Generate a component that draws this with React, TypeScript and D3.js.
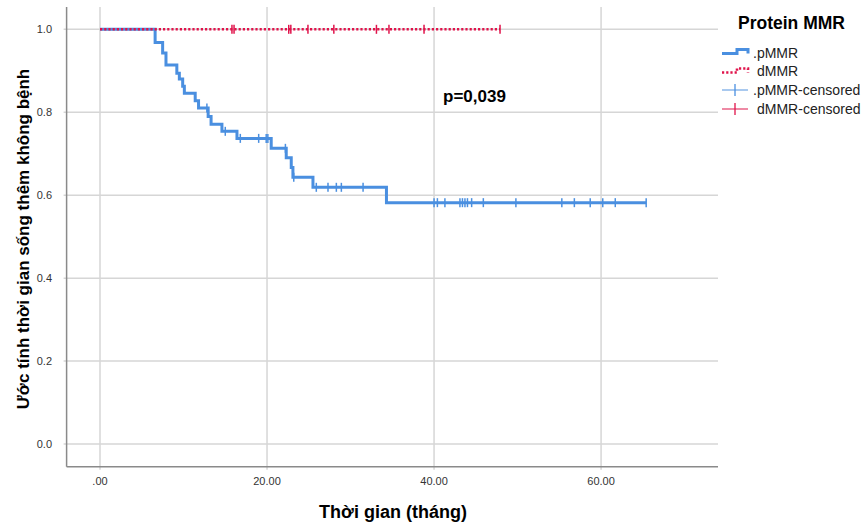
import React from "react";
import * as d3 from "d3";

// ---- Data ----
const pmmrTimes = [0, 6.6, 7.5, 7.9, 9.2, 9.5, 9.9, 10.1, 11.4, 11.8, 12.95, 13.3, 14.6, 16.4, 20.5, 22.3, 22.9, 23.1, 25.5, 34.3, 65.4];
const pmmrSurv = [1.0, 0.968, 0.943, 0.914, 0.894, 0.88, 0.863, 0.846, 0.828, 0.81, 0.79, 0.771, 0.754, 0.737, 0.713, 0.69, 0.667, 0.643, 0.619, 0.582, 0.582];
const pmmrCensored = [12.8, 15.0, 16.8, 19.0, 19.9, 20.1, 22.2, 23.2, 25.9, 27.3, 28.3, 28.9, 31.5, 40.0, 40.4, 41.3, 43.1, 43.4, 43.7, 44.0, 44.5, 45.9, 49.8, 55.3, 56.8, 58.7, 60.2, 61.7, 65.4];

const dmmrTimes = [0, 47.9];
const dmmrSurv = [1.0, 1.0];
const dmmrCensored = [15.8, 16.05, 22.6, 22.85, 24.9, 28.0, 33.1, 34.6, 38.8, 47.9];

const xTicks = [0, 20, 40, 60];
const xTickLabels = [".00", "20.00", "40.00", "60.00"];
const yTicks = [0, 0.2, 0.4, 0.6, 0.8, 1.0];
const yTickLabels = ["0.0", "0.2", "0.4", "0.6", "0.8", "1.0"];

const seriesNames = [".pMMR", "dMMR", ".pMMR-censored", "dMMR-censored"];
const legendTitle = "Protein MMR";
const pLabel = "p=0,039";
const xTitle = "Thời gian (tháng)";
const yTitle = "Ước tính thời gian sống thêm không bệnh";

const BLUE = "#4a8fe0";
const BLUE_LIGHT = "#a9c9ef";
const RED = "#e0134b";
const RED_LIGHT = "#ee8aa5";
const GRID = "#d6d6d6";
const AXIS = "#8a8a8a";
const FONT = "Arial, 'Liberation Sans', sans-serif";

function survAt(times: number[], surv: number[], t: number) {
  let s = surv[0];
  for (let i = 0; i < times.length; i++) {
    if (times[i] <= t) s = surv[i];
  }
  return s;
}

export default function App() {
  const W = 867, H = 526;
  const left = 66.6, right = 718, top = 7, bottom = 466.7;
  const x = d3.scaleLinear().domain([-4, 74]).range([left, right]);
  const y = d3.scaleLinear().domain([-0.0547, 1.0538]).range([bottom, top]);

  const line = d3
    .line<[number, number]>()
    .x((d) => x(d[0]))
    .y((d) => y(d[1]))
    .curve(d3.curveStepAfter);

  const pPts: [number, number][] = pmmrTimes.map((t, i) => [t, pmmrSurv[i]]);
  const dPts: [number, number][] = dmmrTimes.map((t, i) => [t, dmmrSurv[i]]);

  const tickH = 4.5;

  return (
    <svg width={W} height={H} style={{ position: "absolute", left: 0, top: 0, background: "#fff" }} fontFamily={FONT}>
      <rect x={0} y={0} width={W} height={H} fill="#fff" />
      {/* grid */}
      {yTicks.map((v) => (
        <line key={"gy" + v} x1={left - 3} x2={right} y1={y(v)} y2={y(v)} stroke={GRID} strokeWidth={1.5} />
      ))}
      {xTicks.map((v) => (
        <line key={"gx" + v} x1={x(v)} x2={x(v)} y1={top} y2={bottom + 3} stroke={GRID} strokeWidth={1.5} />
      ))}
      {/* axes */}
      <line x1={left} x2={left} y1={top} y2={bottom} stroke={AXIS} strokeWidth={1.5} />
      <line x1={left} x2={right} y1={bottom} y2={bottom} stroke={AXIS} strokeWidth={1.5} />

      {/* y tick labels */}
      {yTicks.map((v, i) => (
        <text key={"yl" + v} x={52} y={y(v)} dy="0.36em" textAnchor="end" fontSize={11} fill="#333">
          {yTickLabels[i]}
        </text>
      ))}
      {/* x tick labels */}
      {xTicks.map((v, i) => (
        <text key={"xl" + v} x={x(v)} y={485} textAnchor="middle" fontSize={11} fill="#333">
          {xTickLabels[i]}
        </text>
      ))}

      {/* pMMR curve */}
      <path d={line(pPts) || ""} fill="none" stroke={BLUE} strokeWidth={3} />
      {pmmrCensored.map((t, i) => {
        const s = survAt(pmmrTimes, pmmrSurv, t);
        return (
          <line key={"pc" + i} x1={x(t)} x2={x(t)} y1={y(s) - tickH} y2={y(s) + tickH} stroke={BLUE} strokeWidth={1.5} />
        );
      })}

      {/* dMMR curve */}
      <path d={line(dPts) || ""} fill="none" stroke={RED} strokeWidth={2.6} strokeDasharray="2.2,2" />
      {dmmrCensored.map((t, i) => {
        const s = survAt(dmmrTimes, dmmrSurv, t);
        return (
          <line key={"dc" + i} x1={x(t)} x2={x(t)} y1={y(s) - tickH} y2={y(s) + tickH} stroke={RED} strokeWidth={1.5} />
        );
      })}

      {/* p value */}
      <text x={443} y={102} fontSize={17} fontWeight="bold" fill="#000">
        {pLabel}
      </text>

      {/* axis titles */}
      <text x={393} y={518} textAnchor="middle" fontSize={18} fontWeight="bold" fill="#000">
        {xTitle}
      </text>
      <text
        transform={`translate(29,239) rotate(-90)`}
        textAnchor="middle"
        fontSize={17}
        fontWeight="bold"
        fill="#000"
      >
        {yTitle}
      </text>

      {/* legend */}
      <text x={738} y={29} fontSize={17.5} fontWeight="bold" fill="#000">
        {legendTitle}
      </text>
      <path d="M722,53.5 H737 V49.5 H748 V53.5" fill="none" stroke={BLUE} strokeWidth={3} />
      <text x={753} y={52.5} dominantBaseline="central" fontSize={14} fill="#222">
        {seriesNames[0]}
      </text>
      <path d="M722,72.5 H737 V68.5 H748 V72.5" fill="none" stroke={RED} strokeWidth={2.6} strokeDasharray="2.2,2" />
      <text x={757} y={71} dominantBaseline="central" fontSize={14} fill="#222">
        {seriesNames[1]}
      </text>
      <line x1={722} x2={748} y1={90} y2={90} stroke={BLUE_LIGHT} strokeWidth={2} />
      <line x1={735} x2={735} y1={84} y2={96} stroke={BLUE} strokeWidth={1.3} />
      <text x={753} y={90} dominantBaseline="central" fontSize={14} fill="#222">
        {seriesNames[2]}
      </text>
      <line x1={722} x2={748} y1={109} y2={109} stroke={RED_LIGHT} strokeWidth={2} />
      <line x1={735} x2={735} y1={103} y2={115} stroke={RED} strokeWidth={1.3} />
      <text x={757} y={109} dominantBaseline="central" fontSize={14} fill="#222">
        {seriesNames[3]}
      </text>
    </svg>
  );
}
